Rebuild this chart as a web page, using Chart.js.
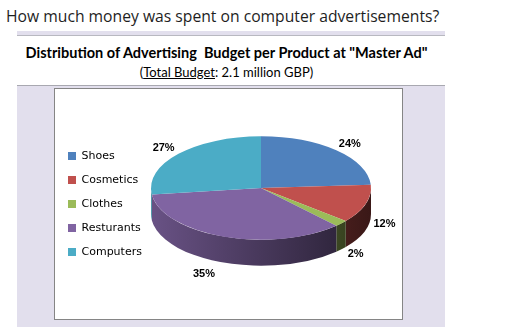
<!DOCTYPE html>
<html>
<head>
<meta charset="utf-8">
<script src="https://cdn.jsdelivr.net/npm/chart.js@4"></script>
<style>
  body { margin: 0; background: #fff; width: 532px; height: 335px; position: relative; overflow: hidden; }
  .question { position: absolute; left: 6px; top: 5px; font: 15.7px "Open Sans", sans-serif; color: #1e1e1e; white-space: nowrap; }
  .band { position: absolute; left: 17px; top: 31px; width: 428px; height: 296px; background: #e2dfed; }
  .head { position: absolute; left: 0; top: 4px; width: 428px; height: 49px; background: #fff;
          border-top: 1px solid #b8b8c0; border-bottom: 1px solid #a8a8b0; }
  .title { position: absolute; left: 0; width: 419px; top: 8px; text-align: center; white-space: pre;
           font: bold 14.5px Lato, sans-serif; color: #000; }
  .sub { position: absolute; left: 0; width: 419px; top: 28px; text-align: center;
         font: 13px Lato, sans-serif; color: #000; }
  .sub u { text-decoration: underline; }
  .box { position: absolute; left: 37px; top: 57px; width: 347px; height: 230px; background: #fff; border: 1px solid #858585; }
</style>
</head>
<body>
<div class="question">How much money was spent on computer advertisements?</div>
<div class="band">
  <div class="head">
    <div class="title">Distribution of Advertising  Budget per Product at "Master Ad"</div>
    <div class="sub">(<u>Total Budget</u>: 2.1 million GBP)</div>
  </div>
  <div class="box"><canvas id="pie" width="347" height="230"></canvas></div>
</div>
<script>
const products = ['Shoes', 'Cosmetics', 'Clothes', 'Resturants', 'Computers'];
const shares = [24, 12, 2, 35, 27];
const sliceColors = ['#4F81BD', '#C0504D', '#9BBB59', '#8064A2', '#4BACC6'];

function shade(hex, f) {
  const n = parseInt(hex.slice(1), 16);
  const r = Math.round(((n >> 16) & 255) * f);
  const g = Math.round(((n >> 8) & 255) * f);
  const b = Math.round((n & 255) * f);
  return `rgb(${r},${g},${b})`;
}

// squashes the pie into an ellipse and gives it a rim, then writes the % labels
const tiltedPie = {
  id: 'tiltedPie',
  beforeDatasetsDraw(chart, args, opts) {
    const ctx = chart.ctx;
    const arcs = chart.getDatasetMeta(0).data;
    if (!arcs.length) return;
    const cx = arcs[0].x, cy = arcs[0].y;
    const r = arcs[0].outerRadius;
    const ey = cy - opts.lift;
    const ry = r * opts.tilt;

    // rim: only the front half (0..PI in canvas angles) shows
    arcs.forEach((arc, i) => {
      let a0 = arc.startAngle, a1 = arc.endAngle;
      [[a0, a1], [a0 - 2 * Math.PI, a1 - 2 * Math.PI]].forEach(([s, e]) => {
        const lo = Math.max(s, 0), hi = Math.min(e, Math.PI);
        if (hi <= lo) return;
        const grad = ctx.createLinearGradient(cx - r, 0, cx + r, 0);
        grad.addColorStop(0, shade(sliceColors[i], 0.82));
        grad.addColorStop(1, shade(sliceColors[i], 0.3));
        ctx.beginPath();
        ctx.ellipse(cx, ey, r, ry, 0, lo, hi);
        ctx.ellipse(cx, ey + opts.depth, r, ry, 0, hi, lo, true);
        ctx.closePath();
        ctx.fillStyle = grad;
        ctx.fill();
      });
    });

    ctx.save();
    ctx.translate(cx, ey);
    ctx.scale(1, opts.tilt);
    ctx.translate(-cx, -cy);
  },
  afterDatasetsDraw(chart, args, opts) {
    const ctx = chart.ctx;
    ctx.restore();
    const arcs = chart.getDatasetMeta(0).data;
    const cx = arcs[0].x, ey = arcs[0].y - opts.lift;
    const r = arcs[0].outerRadius, ry = r * opts.tilt;
    ctx.save();
    ctx.font = 'bold 11px "Liberation Sans", sans-serif';
    ctx.fillStyle = '#000';
    ctx.textAlign = 'center';
    ctx.textBaseline = 'middle';
    arcs.forEach((arc, i) => {
      const mid = (arc.startAngle + arc.endAngle) / 2;
      const s = Math.sin(mid), c = Math.cos(mid);
      let x = cx + c * r * 1.18;
      let y = ey + s * ry * 1.18;
      if (s > 0) y += opts.depth * (0.45 + 0.7 * s);
      // labels under the front rim sit a bit further out
      if (s > 0.8) x += c * r * 0.35;
      ctx.fillText(shares[i] + '%', x, y);
    });
    ctx.restore();
  }
};

new Chart(document.getElementById('pie'), {
  type: 'pie',
  data: {
    labels: products,
    datasets: [{
      data: shares,
      backgroundColor: sliceColors,
      borderWidth: 0
    }]
  },
  options: {
    responsive: false,
    animation: false,
    devicePixelRatio: 1,
    layout: { padding: { left: 0, right: 31, top: 0, bottom: 0 } },
    plugins: {
      legend: {
        position: 'left',
        maxWidth: 96,
        labels: {
          boxWidth: 8,
          boxHeight: 8,
          padding: 13,
          color: '#000',
          font: { family: 'DejaVu Sans', size: 11 }
        }
      },
      tooltip: { enabled: false },
      tiltedPie: { tilt: 0.47, depth: 26, lift: 16 }
    }
  },
  plugins: [tiltedPie]
});
</script>
</body>
</html>
